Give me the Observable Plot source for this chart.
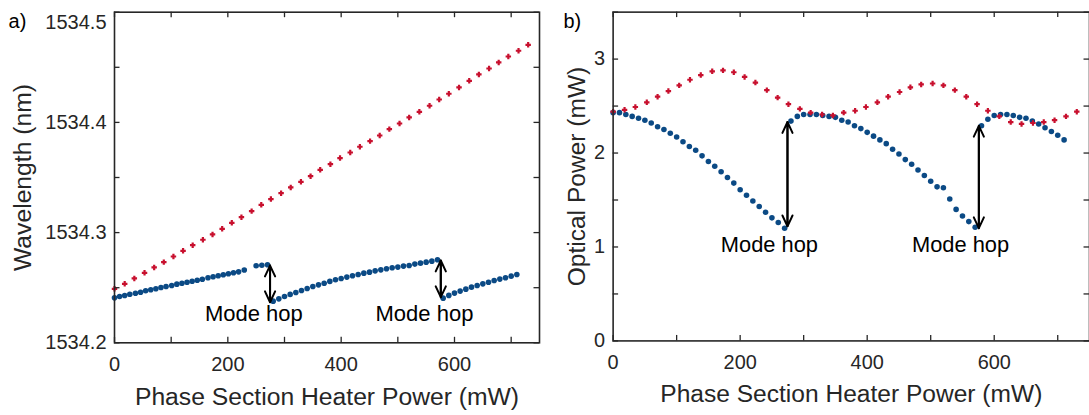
<!DOCTYPE html>
<html><head><meta charset="utf-8">
<script src="https://cdn.jsdelivr.net/npm/d3@7"></script>
<script src="https://cdn.jsdelivr.net/npm/@observablehq/plot@0.6"></script>
<style>
html,body{margin:0;padding:0;background:#fff;overflow:hidden;width:1089px;height:415px}
#wrap{position:relative;width:1089px;height:415px;overflow:hidden}
#pa,#pb{position:absolute;top:0}
#pa{left:0}
#pb{left:545px}
svg{overflow:visible}
</style></head>
<body><div id="wrap"><div id="pa"></div><div id="pb"></div></div>
<script>
// ---------- data ----------
const redX = [0,18,35,53,70,87,104,121,138,156,173,190,207,224,242,259,276,294,311,329,346,363,381,398,416,433,451,468,485,503,520,538,556,573,590,608,626,643,661,678,695,713,730];
const redWavelength = [1534.2490,1534.2535,1534.2584,1534.2635,1534.2684,1534.2732,1534.2783,1534.2835,1534.2886,1534.2935,1534.2983,1534.3034,1534.3089,1534.3140,1534.3195,1534.3252,1534.3304,1534.3358,1534.3410,1534.3461,1534.3512,1534.3570,1534.3621,1534.3676,1534.3727,1534.3779,1534.3830,1534.3881,1534.3939,1534.3990,1534.4045,1534.4096,1534.4151,1534.4208,1534.4260,1534.4317,1534.4377,1534.4435,1534.4489,1534.4544,1534.4598,1534.4650,1534.4704];
const redPower = [2.44,2.46,2.49,2.54,2.60,2.66,2.72,2.78,2.83,2.87,2.88,2.86,2.81,2.75,2.67,2.59,2.52,2.47,2.43,2.41,2.40,2.43,2.45,2.49,2.54,2.60,2.65,2.70,2.73,2.74,2.72,2.67,2.60,2.52,2.45,2.39,2.33,2.31,2.32,2.33,2.35,2.39,2.44];

const blueXa = [0,9,18,27,37,46,55,64,73,82,91,101,110,119,128,137,146,155,165,174,183,192,201,210,219,229,250,260,270,
  280,290,300,310,320,330,340,350,360,370,380,390,400,410,420,430,440,450,460,470,480,490,500,510,520,530,540,550,560,570,
  580,590,600,610,620,630,640,650,660,670,680,690,700,710];
const blueWavelength = [1534.2408,1534.2420,1534.2429,1534.2441,1534.2450,1534.2459,1534.2472,1534.2481,1534.2490,1534.2502,1534.2511,1534.2520,1534.2532,1534.2541,1534.2550,1534.2559,1534.2568,1534.2577,1534.2590,1534.2599,1534.2608,1534.2617,1534.2626,1534.2635,1534.2644,1534.2660,1534.2699,1534.2704,1534.2708,
  1534.2378,1534.2399,1534.2420,1534.2439,1534.2457,1534.2475,1534.2493,1534.2511,1534.2526,1534.2541,1534.2557,1534.2572,1534.2584,1534.2596,1534.2608,1534.2620,1534.2632,1534.2641,1534.2653,1534.2662,1534.2672,1534.2681,1534.2687,1534.2696,1534.2702,1534.2714,1534.2723,1534.2732,1534.2741,1534.2753,
  1534.2405,1534.2430,1534.2451,1534.2469,1534.2487,1534.2505,1534.2520,1534.2535,1534.2550,1534.2566,1534.2578,1534.2590,1534.2605,1534.2620];

const blueXb = [0,10,20,30,40,50,60,70,80,90,100,110,120,130,140,150,160,170,180,190,200,210,220,230,240,250,260,270,
  280,290,300,310,320,330,340,350,360,370,380,390,400,410,420,430,440,450,460,470,480,490,500,510,520,530,540,550,560,570,
  580,590,600,610,620,630,640,650,660,670,680,690,700,710];
const bluePower = [2.43,2.43,2.41,2.39,2.37,2.35,2.32,2.28,2.25,2.21,2.17,2.12,2.07,2.03,1.97,1.91,1.86,1.80,1.74,1.68,1.61,1.55,1.49,1.43,1.37,1.31,1.26,1.20,
  2.34,2.39,2.41,2.41,2.41,2.40,2.39,2.38,2.35,2.33,2.29,2.26,2.22,2.18,2.14,2.10,2.04,1.99,1.93,1.88,1.82,1.76,1.70,1.64,1.63,1.51,1.40,1.33,1.27,1.21,
  2.29,2.36,2.40,2.41,2.41,2.40,2.38,2.37,2.34,2.31,2.27,2.23,2.19,2.14];

// mode-hop annotations
const hopX = [274.5, 575.8];
const hopLowA = [1534.2368, 1534.2414];
const hopHighA = [1534.2701, 1534.2747];
const hopLowB = [1.22, 1.20];
const hopHighB = [2.33, 2.29];
const hopLabelX = [246, 547];
const hopLabelYA = [1534.2266, 1534.2266];
const hopLabelYB = [1.016, 1.016];
const hopText = ["Mode hop", "Mode hop"];

// axes
const xTicks = [0,100,200,300,400,500,600,700];
const xLabels = [0,200,400,600];
const yTicksA = [1534.2,1534.25,1534.3,1534.35,1534.4,1534.45,1534.5];
const yLabelsA = [1534.2,1534.3,1534.4];
const yTopLabelA = [1534.5];
const yTicksB = [0,0.5,1,1.5,2,2.5,3,3.5];
const yLabelsB = [0,1,2,3];
const xTitle = "Phase Section Heater Power (mW)";
const yTitleA = "Wavelength (nm)";
const yTitleB = "Optical Power (mW)";

// ---------- drawing ----------
const INK = "#262626", BLUE = "#0b4a85", RED = "#c8102e";
const FONT = "'Liberation Sans', Arial, Helvetica, sans-serif";
const H = 415, MT = 11.7, MB = 72.7, TICK = 5.5;
const plotH = H - MT - MB;

const redRows = redX.map((x, i) => ({x, wl: redWavelength[i], p: redPower[i]}));
const blueRowsA = blueXa.map((x, i) => ({x, v: blueWavelength[i]}));
const blueRowsB = blueXb.map((x, i) => ({x, v: bluePower[i]}));
const hopRowsA = hopX.map((x, i) => ({x, lo: hopLowA[i], hi: hopHighA[i]}));
const hopRowsB = hopX.map((x, i) => ({x, lo: hopLowB[i], hi: hopHighB[i]}));
const labRowsA = hopLabelX.map((x, i) => ({x, y: hopLabelYA[i], t: hopText[i]}));
const labRowsB = hopLabelX.map((x, i) => ({x, y: hopLabelYB[i], t: hopText[i]}));

function panel({width, ml, mr, yDomain, yTicks, yLabelMarks, blueRows, redKey, hopRows, labRows, yTitle, yTitleX, tag, tagX}) {
  const plotW = width - ml - mr;
  return Plot.plot({
    width, height: H,
    marginLeft: ml, marginRight: mr, marginTop: MT, marginBottom: MB,
    style: {fontFamily: FONT, fontSize: "20px", color: INK, background: "white", overflow: "visible"},
    x: {domain: [0, 750], label: null},
    y: {domain: yDomain, label: null},
    marks: [
      Plot.dot(blueRows, {x: "x", y: "v", r: 2.8, fill: BLUE, stroke: null}),
      Plot.dot(redRows, {x: "x", y: redKey, symbol: "plus", r: 1.9, stroke: RED, strokeWidth: 2.2}),
      Plot.arrow(hopRows, {x1: "x", x2: "x", y1: "lo", y2: "hi", stroke: "black", strokeWidth: 2, headLength: 9, headAngle: 50, bend: false}),
      Plot.arrow(hopRows, {x1: "x", x2: "x", y1: "hi", y2: "lo", stroke: "black", strokeWidth: 2, headLength: 9, headAngle: 50, bend: false}),
      Plot.text(labRows, {x: "x", y: "y", text: "t", fontSize: 22, fill: "black"}),
      // inward ticks on all four sides
      Plot.tickX(xTicks, {x: d => d, insetTop: plotH - TICK, stroke: INK, strokeWidth: 1.3}),
      Plot.tickX(xTicks, {x: d => d, insetBottom: plotH - TICK, stroke: INK, strokeWidth: 1.3}),
      Plot.tickY(yTicks, {y: d => d, insetRight: plotW - TICK, stroke: INK, strokeWidth: 1.3}),
      Plot.tickY(yTicks, {y: d => d, insetLeft: plotW - TICK, stroke: INK, strokeWidth: 1.3}),
      Plot.frame({stroke: INK, strokeWidth: 1.6}),
      Plot.axisX(xLabels, {tickSize: 0, tickPadding: 14, fontSize: 20, color: INK, label: null, tickFormat: d => String(d)}),
      ...yLabelMarks,
      Plot.text([xTitle], {text: d => d, frameAnchor: "bottom", textAnchor: "middle", lineAnchor: "bottom", dy: 61.7, fontSize: 24.7, fill: INK}),
      Plot.text([yTitle], {text: d => d, frameAnchor: "left", textAnchor: "middle", lineAnchor: "middle", rotate: -90, dx: yTitleX - ml, fontSize: 24.7, fill: INK}),
      Plot.text([tag], {text: d => d, frameAnchor: "top-left", textAnchor: "middle", lineAnchor: "middle", dx: tagX - ml, dy: 21 - MT, fontSize: 20, fill: "black"})
    ]
  });
}

const fmt1 = d3.format(".1f");
const a = panel({
  width: 545, ml: 114, mr: 6, yDomain: [1534.2, 1534.5], yTicks: yTicksA,
  yLabelMarks: [
    Plot.axisY(yLabelsA, {tickSize: 0, tickPadding: 8, fontSize: 20, color: INK, label: null, tickFormat: fmt1}),
    Plot.axisY(yTopLabelA, {tickSize: 0, tickPadding: 8, fontSize: 20, color: INK, label: null, tickFormat: fmt1, dy: 10})
  ],
  blueRows: blueRowsA, redKey: "wl", hopRows: hopRowsA, labRows: labRowsA,
  yTitle: yTitleA, yTitleX: 22.6, tag: "a)", tagX: 17
});
const b = panel({
  width: 547, ml: 68, mr: 0, yDomain: [0, 3.5], yTicks: yTicksB,
  yLabelMarks: [
    Plot.axisY(yLabelsB, {tickSize: 0, tickPadding: 8, fontSize: 20, color: INK, label: null, tickFormat: d => String(d)})
  ],
  blueRows: blueRowsB, redKey: "p", hopRows: hopRowsB, labRows: labRowsB,
  yTitle: yTitleB, yTitleX: 32, tag: "b)", tagX: 27
});
document.getElementById("pa").append(a);
document.getElementById("pb").append(b);
</script></body></html>
